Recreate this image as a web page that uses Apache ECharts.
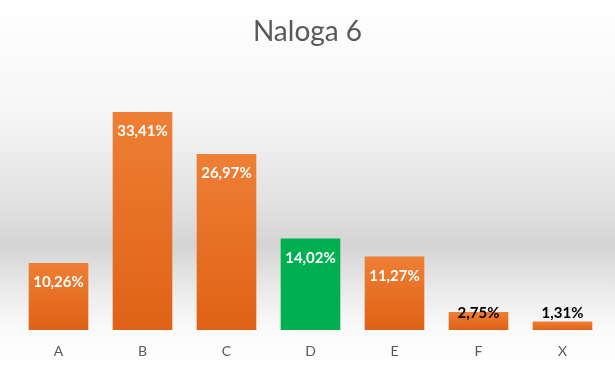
<!DOCTYPE html>
<html><head><meta charset="utf-8">
<script src="https://cdn.jsdelivr.net/npm/echarts@6/dist/echarts.min.js"></script>
<style>html,body{margin:0;padding:0;background:#fff}#c{width:615px;height:367px}</style>
</head><body><div id="c"></div>
<script>
var categories = ['A','B','C','D','E','F','X'];
var values = [10.26, 33.41, 26.97, 14.02, 11.27, 2.75, 1.31];
var highlighted = ['D'];
var titleText = 'Naloga 6';

function fmt(v){ return v.toFixed(2).replace('.', ',') + '%'; }

var orange = new echarts.graphic.LinearGradient(0,0,0,1,[{offset:0,color:'#ee7f35'},{offset:1,color:'#df6216'}]);
var data = values.map(function(v,i){
  var item = {value:v, itemStyle:{color: highlighted.indexOf(categories[i])>=0 ? '#00b050' : orange}};
  if (v < 5) {
    item.label = {position:'top', distance: v > 2 ? -9 : 1, color:'#000'};
  }
  return item;
});

var chart = echarts.init(document.getElementById('c'));
chart.setOption({
  backgroundColor: new echarts.graphic.LinearGradient(0,0,0,1,[
    {offset:0,color:'#ffffff'},
    {offset:0.3,color:'#f6f6f6'},
    {offset:0.55,color:'#e2e2e2'},
    {offset:0.67,color:'#d4d4d4'},
    {offset:0.8,color:'#ececec'},
    {offset:0.9,color:'#fafafa'},
    {offset:1,color:'#ffffff'}
  ]),
  animation:false,
  title:{text:titleText,left:'center',top:13,textStyle:{fontFamily:'Lato',fontSize:28,fontWeight:'normal',color:'#595959'}},
  grid:{left:16.5,right:10.5,top:101.6,bottom:37},
  xAxis:{type:'category',data:categories,axisLine:{show:false},axisTick:{show:false},
    axisLabel:{color:'#595959',fontFamily:'Lato',fontSize:14,margin:14}},
  yAxis:{type:'value',min:0,max:35,show:false,splitLine:{show:false}},
  series:[{type:'bar',data:data,barCategoryGap:'29%',
    label:{show:true,position:'insideTop',distance:12,formatter:function(p){return fmt(p.value);},
      color:'#fff',fontWeight:'bold',fontFamily:'Lato',fontSize:15}}]
});
</script></body></html>
